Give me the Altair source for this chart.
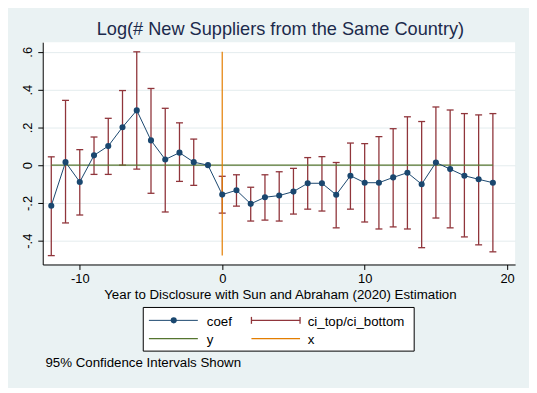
import altair as alt
import pandas as pd

# ---- data ----
years = [-12, -11, -10, -9, -8, -7, -6, -5, -4, -3, -2, -1, 0, 1, 2, 3, 4, 5, 6, 7,
         8, 9, 10, 11, 12, 13, 14, 15, 16, 17, 18, 19]
coef = [-0.215, 0.016, -0.089, 0.052, 0.101, 0.201, 0.290, 0.131, 0.030, 0.066, 0.016, 0.0,
        -0.156, -0.133, -0.205, -0.170, -0.161, -0.140, -0.096, -0.096, -0.157, -0.056,
        -0.093, -0.093, -0.065, -0.040, -0.101, 0.014, -0.021, -0.056, -0.075, -0.093]

ci_years = [-12, -11, -10, -9, -8, -7, -6, -5, -4, -3, -2, 0, 1, 2, 3, 4, 5, 6, 7,
            8, 9, 10, 11, 12, 13, 14, 15, 16, 17, 18, 19]
ci_top = [0.044, 0.343, 0.082, 0.149, 0.248, 0.395, 0.600, 0.406, 0.301, 0.224, 0.138,
          -0.059, -0.051, -0.117, -0.051, -0.035, -0.017, 0.040, 0.045, 0.014, 0.117,
          0.114, 0.151, 0.193, 0.256, 0.231, 0.308, 0.292, 0.273, 0.266, 0.273]
ci_bottom = [-0.479, -0.306, -0.264, -0.049, -0.049, 0.0, -0.021, -0.149, -0.248, -0.086, -0.107,
             -0.254, -0.217, -0.296, -0.291, -0.296, -0.259, -0.233, -0.243, -0.332, -0.233,
             -0.301, -0.338, -0.327, -0.338, -0.437, -0.280, -0.332, -0.380, -0.422, -0.459]

yline_x = [-12, 19]      # horizontal reference line y = 0 spans these years
yline_val = [0.0]
xline_val = [0.0]        # vertical reference line at x = 0
xline_y = [-0.479, 0.600]

x_ticks = [-10, 0, 10, 20]
y_ticks = [-0.4, -0.2, 0.0, 0.2, 0.4, 0.6]
x_domain = [-12.6, 20.56]
y_domain = [-0.526, 0.651]

title_text = "Log(# New Suppliers from the Same Country)"
xtitle_text = "Year to Disclosure with Sun and Abraham (2020) Estimation"
note_text = "95% Confidence Intervals Shown"
legend_labels = ["coef", "ci_top/ci_bottom", "y", "x"]

NAVY = "#1a476f"
MAROON = "#90353b"
GREEN = "#55752f"
ORANGE = "#e37e00"
BG = "#eaf2f3"
FONT = "Liberation Sans"

W, H = 476, 224

coef_df = pd.DataFrame({"t": years, "b": coef})
ci_df = pd.DataFrame({"t": ci_years, "hi": ci_top, "lo": ci_bottom})
yl_df = pd.DataFrame({"t": [yline_x[0]], "t2": [yline_x[1]], "v": yline_val})
xl_df = pd.DataFrame({"t": xline_val, "lo": [xline_y[0]], "hi": [xline_y[1]]})
one = pd.DataFrame({"k": [0]})

xs = alt.Scale(domain=x_domain, nice=False, zero=False)
ys = alt.Scale(domain=y_domain, nice=False, zero=False)

x_axis = alt.Axis(values=x_ticks, title=None, grid=False, labelExpr="'' + datum.value",
                  labelFont=FONT, labelFontSize=13, labelColor="black", labelPadding=3.5,
                  tickColor="black", tickSize=5, domainColor="black", labelFlush=False)
y_axis = alt.Axis(values=y_ticks, title=None, grid=True, gridColor="#e4ecee",
                  labelExpr="datum.value == 0 ? '0' : (datum.value < 0 ? '-' : '') + '.' + round(abs(datum.value) * 10)",
                  labelAngle=270, labelAlign="center", labelBaseline="alphabetic",
                  labelFont=FONT, labelFontSize=13, labelColor="black", labelPadding=6,
                  tickColor="black", tickSize=5, domainColor="black")

base_x = alt.X("t:Q", scale=xs, axis=x_axis)

ci = alt.Chart(ci_df).mark_rule(color=MAROON, strokeWidth=1.3).encode(
    x=base_x, y=alt.Y("lo:Q", scale=ys, axis=y_axis), y2="hi:Q")
cap_top = alt.Chart(ci_df).mark_rule(color=MAROON, strokeWidth=1.3, xOffset=-3.5, x2Offset=3.5).encode(
    x="t:Q", x2="t:Q", y="hi:Q")
cap_bot = alt.Chart(ci_df).mark_rule(color=MAROON, strokeWidth=1.3, xOffset=-3.5, x2Offset=3.5).encode(
    x="t:Q", x2="t:Q", y="lo:Q")
yline = alt.Chart(yl_df).mark_rule(color=GREEN, strokeWidth=1.2).encode(
    x="t:Q", x2="t2:Q", y="v:Q")
xline = alt.Chart(xl_df).mark_rule(color=ORANGE, strokeWidth=1.2).encode(
    x="t:Q", y="lo:Q", y2="hi:Q")
coef_line = alt.Chart(coef_df).mark_line(color=NAVY, strokeWidth=1).encode(
    x="t:Q", y="b:Q")
coef_pts = alt.Chart(coef_df).mark_point(color=NAVY, filled=True, opacity=1, size=38, shape="circle").encode(
    x="t:Q", y="b:Q")

# ---- texts outside the plot area ----
def txt(s, x, y, size, color="black", align="left"):
    return alt.Chart(one).mark_text(text=s, font=FONT, fontSize=size, color=color,
                                    align=align, baseline="alphabetic").encode(
        x=alt.value(x), y=alt.value(y))

title = txt(title_text, 239.5, -7, 18.3, color="#1c2a4c", align="center")
xtitle = txt(xtitle_text, 239.5, 258.5, 13.4, align="center")
note = txt(note_text, 2.7, 327, 13.4)

# ---- hand drawn legend ----
box = alt.Chart(one).mark_rect(fill="white", stroke="black", strokeWidth=1).encode(
    x=alt.value(101.3), x2=alt.value(374.3), y=alt.value(267.3), y2=alt.value(311.3))
r1, r2 = 280.3, 298.7
lg = [
    alt.Chart(one).mark_rule(color=NAVY, strokeWidth=1).encode(
        x=alt.value(107), x2=alt.value(156.3), y=alt.value(r1)),
    alt.Chart(one).mark_point(color=NAVY, filled=True, opacity=1, size=38, shape="circle").encode(
        x=alt.value(132), y=alt.value(r1)),
    alt.Chart(one).mark_rule(color=MAROON, strokeWidth=1.3).encode(
        x=alt.value(210.3), x2=alt.value(259.3), y=alt.value(r1)),
    alt.Chart(one).mark_rule(color=MAROON, strokeWidth=1.3).encode(
        x=alt.value(210.3), y=alt.value(r1 - 3.5), y2=alt.value(r1 + 3.5)),
    alt.Chart(one).mark_rule(color=MAROON, strokeWidth=1.3).encode(
        x=alt.value(259.3), y=alt.value(r1 - 3.5), y2=alt.value(r1 + 3.5)),
    alt.Chart(one).mark_rule(color=GREEN, strokeWidth=1.2).encode(
        x=alt.value(107), x2=alt.value(156.3), y=alt.value(r2)),
    alt.Chart(one).mark_rule(color=ORANGE, strokeWidth=1.2).encode(
        x=alt.value(210.3), x2=alt.value(259.3), y=alt.value(r2)),
    txt(legend_labels[0], 165.3, 285.7, 13.4),
    txt(legend_labels[1], 267, 285.7, 13.4),
    txt(legend_labels[2], 165.3, 304.1, 13.4),
    txt(legend_labels[3], 267, 304.1, 13.4),
]

chart = alt.layer(
    ci, cap_top, cap_bot, yline, xline, coef_line, coef_pts,
    title, xtitle, note, box, *lg
).properties(
    width=W, height=H,
    autosize=alt.AutoSizeParams(type="none"),
    padding={"left": 35, "top": 33, "right": 14, "bottom": 123},
    background=BG,
).configure_view(fill="white", stroke=None)

chart.save("out.html", embed_options={"renderer": "svg", "actions": False})
